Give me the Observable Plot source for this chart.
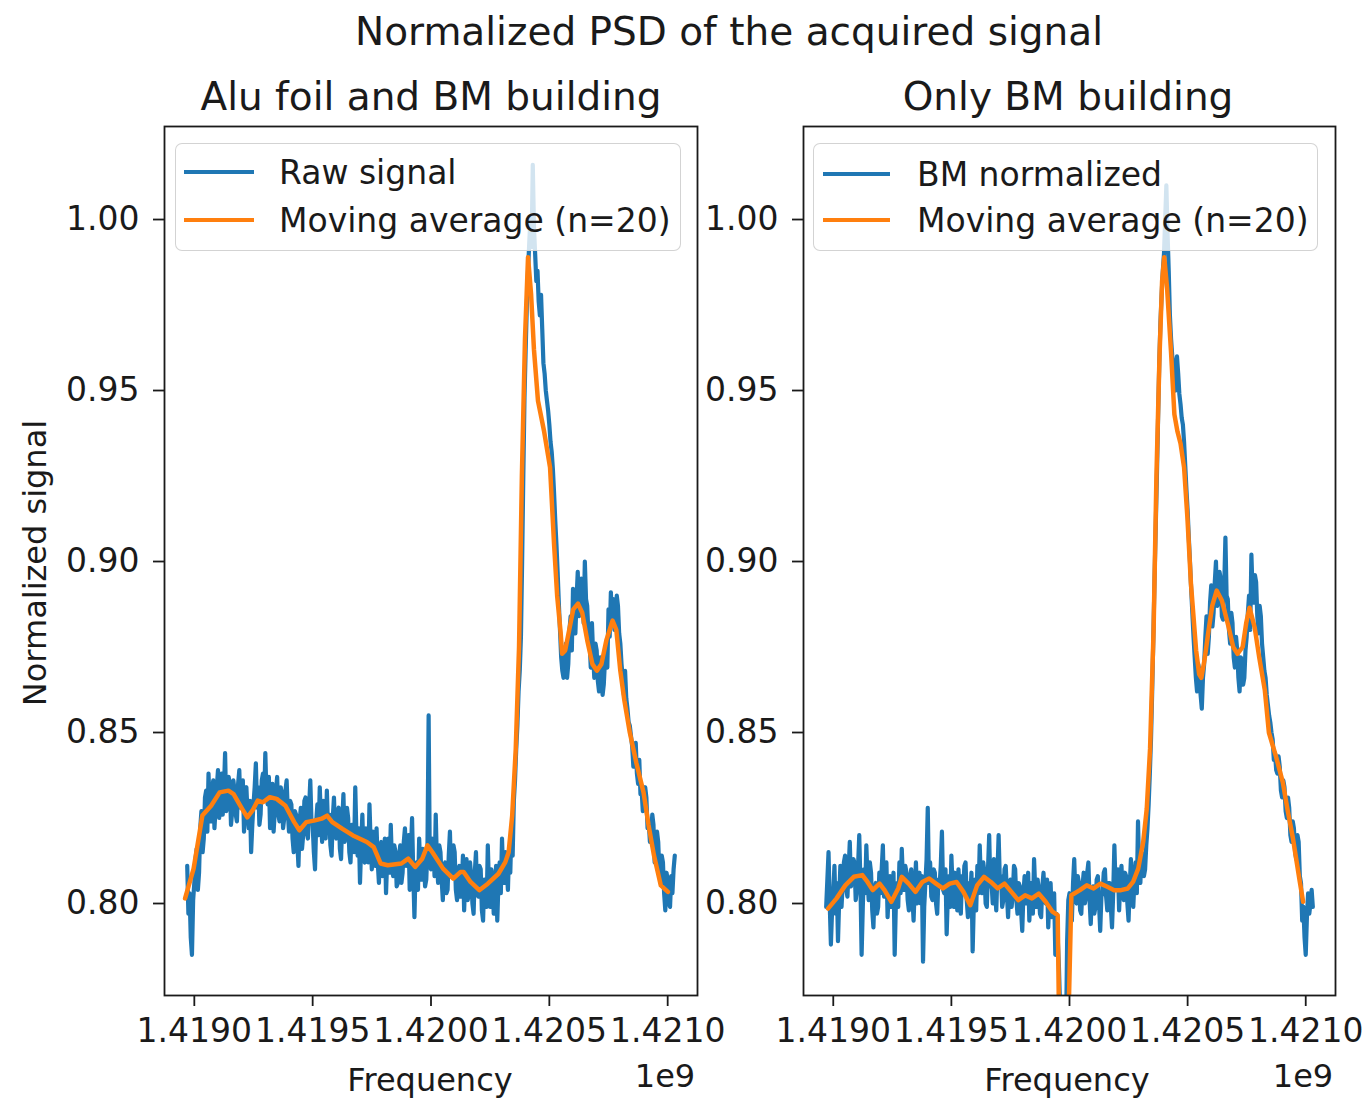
<!DOCTYPE html>
<html><head><meta charset="utf-8">
<script src="https://cdn.jsdelivr.net/npm/d3@7"></script>
<script src="https://cdn.jsdelivr.net/npm/@observablehq/plot@0.6"></script>
<style>
body{margin:0;background:#fff;font-family:"DejaVu Sans",sans-serif;color:#1a1a1a}
#fig{position:relative;width:1365px;height:1100px;overflow:hidden;background:#fff}
.t{position:absolute;white-space:nowrap;line-height:1;transform:translate(-50%,-50%)}
.legend{position:absolute;background:rgba(255,255,255,0.8);border:1.5px solid rgba(200,200,200,0.8);border-radius:7px;box-sizing:border-box}
.sw{position:absolute;height:4.5px}
.lt{position:absolute;white-space:nowrap;line-height:1;font-size:33px;transform:translateY(-50%)}
</style></head><body><div id="fig"></div>
<script>
// ---- data ----
const suptitle = "Normalized PSD of the acquired signal";
const panelTitles = ["Alu foil and BM building", "Only BM building"];
const rawLabels = ["Raw signal", "BM normalized"];
const maLabel = "Moving average (n=20)";
const xLabel = "Frequency";
const yLabel = "Normalized signal";
const offsetLabel = "1e9";
const yTicks = [0.80, 0.85, 0.90, 0.95, 1.00];
const xTicks = [1.4190, 1.4195, 1.4200, 1.4205, 1.4210];
const freqStart = 1.41897;   // first FFT bin (x 1e9 Hz)
const freqStep = 0.000005;   // bin width (x 1e9 Hz)

const rawAlu = [
0.811,0.797,0.803,0.790,0.785,0.801,0.806,0.813,0.816,0.804,0.809,0.822,0.827,0.815,0.819,0.831,0.833,0.821,0.838,0.828,
0.824,0.833,0.836,0.822,0.828,0.834,0.839,0.825,0.831,0.838,0.826,0.833,0.844,0.827,0.829,0.837,0.835,0.823,0.827,0.836,
0.833,0.826,0.824,0.835,0.839,0.828,0.829,0.836,0.821,0.831,0.834,0.826,0.822,0.830,0.815,0.823,0.829,0.834,0.841,0.828,
0.834,0.823,0.826,0.836,0.838,0.830,0.844,0.831,0.829,0.837,0.822,0.832,0.835,0.821,0.827,0.833,0.837,0.826,0.824,0.834,
0.832,0.822,0.825,0.833,0.836,0.827,0.821,0.830,0.829,0.819,0.815,0.827,0.826,0.818,0.811,0.824,0.828,0.816,0.820,0.830,
0.831,0.821,0.819,0.828,0.836,0.824,0.823,0.815,0.810,0.824,0.829,0.820,0.834,0.825,0.818,0.830,0.827,0.819,0.833,0.822,
0.826,0.817,0.814,0.825,0.831,0.821,0.819,0.827,0.828,0.816,0.813,0.824,0.832,0.818,0.820,0.828,0.825,0.815,0.812,0.823,
0.823,0.815,0.834,0.820,0.814,0.822,0.806,0.817,0.826,0.813,0.812,0.822,0.821,0.812,0.829,0.818,0.810,0.821,0.819,0.811,
0.822,0.812,0.806,0.816,0.818,0.808,0.811,0.819,0.803,0.813,0.819,0.809,0.823,0.812,0.808,0.817,0.815,0.805,0.806,0.814,
0.817,0.806,0.809,0.818,0.822,0.811,0.813,0.820,0.804,0.815,0.825,0.809,0.796,0.811,0.812,0.804,0.819,0.810,0.807,0.816,
0.813,0.805,0.807,0.816,0.855,0.811,0.810,0.819,0.818,0.808,0.826,0.812,0.806,0.817,0.815,0.807,0.801,0.811,0.812,0.803,
0.804,0.814,0.821,0.808,0.809,0.817,0.815,0.804,0.801,0.810,0.811,0.802,0.806,0.814,0.798,0.808,0.813,0.801,0.803,0.812,
0.808,0.800,0.797,0.809,0.815,0.803,0.802,0.811,0.810,0.798,0.795,0.807,0.806,0.799,0.817,0.805,0.799,0.810,0.808,0.797,
0.803,0.811,0.795,0.806,0.812,0.803,0.819,0.808,0.806,0.815,0.810,0.804,0.816,0.809,0.822,0.814,0.830,0.836,0.845,0.852,
0.862,0.868,0.878,0.900,0.925,0.948,0.962,0.975,0.985,0.993,1.000,0.992,1.016,0.998,0.990,0.982,0.985,0.976,0.972,0.978,
0.968,0.958,0.955,0.950,0.947,0.944,0.940,0.935,0.932,0.927,0.920,0.912,0.905,0.897,0.888,0.880,0.872,0.868,0.866,0.872,
0.876,0.866,0.870,0.880,0.884,0.874,0.892,0.883,0.879,0.889,0.897,0.884,0.885,0.895,0.893,0.882,0.900,0.889,0.887,0.879,
0.877,0.869,0.882,0.873,0.866,0.876,0.874,0.865,0.862,0.872,0.870,0.861,0.864,0.871,0.876,0.869,0.886,0.878,0.891,0.882,
0.889,0.880,0.884,0.890,0.887,0.879,0.876,0.870,0.866,0.861,0.868,0.860,0.857,0.853,0.852,0.849,0.846,0.840,0.843,0.847,
0.838,0.835,0.842,0.832,0.833,0.827,0.829,0.834,0.831,0.822,0.824,0.818,0.820,0.826,0.823,0.812,0.814,0.821,0.818,0.809,
0.806,0.814,0.812,0.803,0.798,0.809,0.807,0.800,0.799,0.808,0.803,0.810,0.814];

const rawBM = [
0.799,0.807,0.815,0.800,0.788,0.798,0.803,0.811,0.797,0.806,0.789,0.801,0.811,0.799,0.806,0.812,0.814,0.804,0.802,0.810,
0.818,0.805,0.807,0.813,0.812,0.801,0.804,0.811,0.820,0.806,0.785,0.799,0.810,0.803,0.817,0.807,0.801,0.812,0.809,0.798,
0.793,0.804,0.806,0.797,0.799,0.809,0.803,0.810,0.817,0.802,0.805,0.812,0.796,0.804,0.808,0.799,0.802,0.809,0.785,0.800,
0.806,0.799,0.812,0.803,0.816,0.807,0.804,0.811,0.809,0.801,0.798,0.807,0.810,0.802,0.795,0.805,0.812,0.800,0.803,0.809,
0.800,0.808,0.783,0.799,0.806,0.813,0.828,0.806,0.812,0.802,0.801,0.810,0.809,0.800,0.797,0.807,0.805,0.811,0.821,0.804,
0.803,0.810,0.791,0.802,0.808,0.799,0.814,0.805,0.799,0.809,0.806,0.798,0.810,0.803,0.797,0.808,0.804,0.811,0.812,0.801,
0.796,0.806,0.802,0.809,0.786,0.800,0.807,0.798,0.811,0.803,0.817,0.806,0.803,0.812,0.809,0.800,0.799,0.810,0.820,0.805,
0.806,0.800,0.813,0.804,0.798,0.809,0.820,0.807,0.808,0.799,0.801,0.810,0.811,0.803,0.796,0.805,0.807,0.799,0.803,0.811,
0.810,0.801,0.797,0.806,0.805,0.798,0.792,0.803,0.808,0.800,0.801,0.809,0.795,0.803,0.806,0.797,0.813,0.804,0.799,0.807,
0.804,0.797,0.796,0.805,0.809,0.801,0.800,0.807,0.793,0.802,0.806,0.796,0.798,0.803,0.785,0.797,0.790,0.782,0.770,0.740,
0.700,0.690,0.720,0.760,0.789,0.801,0.803,0.796,0.795,0.806,0.813,0.802,0.800,0.808,0.806,0.798,0.797,0.805,0.809,0.800,
0.802,0.809,0.812,0.801,0.794,0.803,0.805,0.797,0.799,0.807,0.808,0.800,0.792,0.802,0.803,0.809,0.810,0.802,0.798,0.806,
0.806,0.799,0.793,0.803,0.817,0.805,0.804,0.810,0.798,0.806,0.811,0.803,0.801,0.809,0.808,0.800,0.795,0.805,0.813,0.806,
0.799,0.807,0.812,0.803,0.824,0.809,0.806,0.815,0.814,0.808,0.810,0.817,0.822,0.829,0.838,0.848,0.862,0.878,0.895,0.910,
0.925,0.942,0.958,0.970,0.978,0.985,0.990,1.000,1.010,0.996,0.985,0.972,0.965,0.960,0.958,0.952,0.950,0.960,0.955,0.949,
0.946,0.942,0.940,0.935,0.928,0.921,0.915,0.907,0.900,0.892,0.885,0.878,0.872,0.866,0.862,0.870,0.868,0.861,0.857,0.866,
0.870,0.878,0.884,0.873,0.878,0.888,0.893,0.881,0.885,0.894,0.900,0.887,0.888,0.897,0.895,0.884,0.883,0.893,0.907,0.890,
0.889,0.880,0.876,0.885,0.882,0.872,0.869,0.878,0.874,0.866,0.862,0.872,0.871,0.864,0.866,0.874,0.878,0.885,0.890,0.880,
0.902,0.891,0.888,0.896,0.894,0.884,0.879,0.887,0.884,0.876,0.872,0.868,0.866,0.861,0.858,0.855,0.853,0.850,0.848,0.842,
0.844,0.839,0.838,0.843,0.840,0.833,0.831,0.836,0.834,0.827,0.825,0.831,0.828,0.820,0.818,0.824,0.822,0.815,0.813,0.820,
0.818,0.808,0.806,0.795,0.799,0.790,0.785,0.796,0.803,0.797,0.800,0.804,0.799];

// moving average: [frequency (x1e9), value]
const maAlu = [
[1.418961,0.8015],[1.418997,0.8102],[1.419034,0.8257],[1.419071,0.8286],[1.419107,0.8325],[1.419144,0.8330],
[1.419166,0.8320],[1.419202,0.8277],[1.419224,0.8252],[1.419246,0.8272],[1.419268,0.8301],[1.419290,0.8296],
[1.419319,0.8311],[1.419348,0.8306],[1.419385,0.8286],[1.419422,0.8238],[1.419444,0.8214],[1.419473,0.8238],
[1.419510,0.8243],[1.419538,0.8248],[1.419561,0.8257],[1.419583,0.8238],[1.419626,0.8218],[1.419670,0.8199],
[1.419729,0.8180],[1.419758,0.8165],[1.419787,0.8117],[1.419817,0.8112],[1.419875,0.8117],[1.419904,0.8131],
[1.419933,0.8107],[1.419963,0.8131],[1.419985,0.8170],[1.420006,0.8150],[1.420051,0.8102],[1.420094,0.8073],
[1.420124,0.8092],[1.420138,0.8092],[1.420167,0.8063],[1.420204,0.8039],[1.420240,0.8058],[1.420285,0.8087],
[1.420314,0.8121],[1.420328,0.8150],[1.420343,0.8257],[1.420358,0.8451],[1.420372,0.875],[1.420384,0.925],
[1.420397,0.965],[1.420410,0.989],[1.420423,0.978],[1.420435,0.962],[1.420452,0.947],[1.420478,0.938],
[1.420503,0.9275],[1.420520,0.905],[1.420533,0.890],[1.420548,0.879],[1.420554,0.873],[1.420567,0.874],
[1.420584,0.880],[1.420601,0.886],[1.420621,0.8877],[1.420639,0.885],[1.420660,0.877],[1.420682,0.870],
[1.420701,0.8681],[1.420720,0.870],[1.420741,0.877],[1.420767,0.8827],[1.420783,0.880],[1.420800,0.868],
[1.420817,0.8594],[1.420840,0.850],[1.420868,0.841],[1.420898,0.8325],[1.420919,0.823],[1.420942,0.8141],
[1.420971,0.8053],[1.421001,0.8034]];

const maBM = [
[1.418978,0.7985],[1.419014,0.8015],[1.419051,0.8053],[1.419087,0.8078],[1.419123,0.8083],[1.419145,0.8063],
[1.419167,0.8039],[1.419196,0.8058],[1.419217,0.8039],[1.419246,0.8005],[1.419275,0.8044],[1.419290,0.8078],
[1.419319,0.8058],[1.419348,0.8034],[1.419377,0.8063],[1.419406,0.8073],[1.419435,0.8058],[1.419464,0.8044],
[1.419493,0.8058],[1.419522,0.8063],[1.419551,0.8034],[1.419580,0.7995],[1.419609,0.8053],[1.419638,0.8078],
[1.419667,0.8063],[1.419696,0.8044],[1.419725,0.8058],[1.419754,0.8034],[1.419783,0.8010],[1.419812,0.8024],
[1.419841,0.8015],[1.419870,0.8029],[1.419899,0.8005],[1.419928,0.7976],[1.419950,0.7966],[1.419957,0.760],
[1.419972,0.740],[1.419986,0.750],[1.419997,0.770],[1.420008,0.8024],[1.420044,0.8039],[1.420073,0.8053],
[1.420102,0.8044],[1.420131,0.8058],[1.420160,0.8049],[1.420189,0.8039],[1.420218,0.8039],[1.420247,0.8044],
[1.420269,0.8063],[1.420291,0.8102],[1.420312,0.8180],[1.420327,0.8277],[1.420341,0.8452],[1.420356,0.880],
[1.420368,0.925],[1.420381,0.960],[1.420392,0.982],[1.420401,0.989],[1.420413,0.980],[1.420430,0.961],
[1.420444,0.943],[1.420457,0.938],[1.420470,0.9345],[1.420485,0.9275],[1.420499,0.913],[1.420514,0.8936],
[1.420536,0.874],[1.420549,0.867],[1.420558,0.866],[1.420571,0.871],[1.420587,0.879],[1.420604,0.887],
[1.420623,0.8915],[1.420645,0.8886],[1.420674,0.8807],[1.420693,0.875],[1.420711,0.873],[1.420733,0.875],
[1.420748,0.882],[1.420762,0.8865],[1.420784,0.8807],[1.420803,0.872],[1.420827,0.8623],[1.420844,0.850],
[1.420874,0.843],[1.420903,0.8354],[1.420924,0.827],[1.420946,0.819],[1.420975,0.8063],[1.420989,0.8005]];

// ---- drawing ----
const BLUE = "#1f77b4", ORANGE = "#ff7f0e", INK = "#1a1a1a";
const fig = document.getElementById("fig");

function panel(raw, ma, cfg) {
  const rawData = raw.map((v, i) => ({f: freqStart + i * freqStep, v}));
  const maData = ma.map(([f, v]) => ({f, v}));
  const svg = Plot.plot({
    width: cfg.width, height: 1100,
    marginTop: 126, marginBottom: 105, marginLeft: cfg.ml, marginRight: cfg.mr,
    style: {background: "transparent", overflow: "visible", fontFamily: "DejaVu Sans, sans-serif", fontSize: "33px", color: INK},
    x: {domain: [1.418874, 1.421126]},
    y: {domain: [0.7731, 1.0272]},
    marks: [
      Plot.line(rawData, {x: "f", y: "v", stroke: BLUE, strokeWidth: 4.2, strokeLinejoin: "round", clip: true}),
      Plot.line(maData, {x: "f", y: "v", stroke: ORANGE, strokeWidth: 4.5, strokeLinejoin: "round", clip: true}),
      Plot.frame({stroke: INK, strokeWidth: 1.8}),
      Plot.axisY({ticks: yTicks, tickFormat: d3.format(".2f"), tickSize: 11, tickPadding: 14, strokeWidth: 1.8, label: null}),
      Plot.axisX({ticks: xTicks, tickFormat: d3.format(".4f"), tickSize: 11, tickPadding: 12, strokeWidth: 1.8, label: null})
    ]
  });
  svg.style.position = "absolute";
  svg.style.left = cfg.left + "px";
  svg.style.top = "0px";
  fig.appendChild(svg);
}

panel(rawAlu, maAlu, {left: 0, width: 725, ml: 164, mr: 28});
panel(rawBM, maBM, {left: 700, width: 665, ml: 103, mr: 30});

function text(str, x, y, size, extra) {
  const d = document.createElement("div");
  d.className = "t";
  d.textContent = str;
  d.style.left = x + "px"; d.style.top = y + "px"; d.style.fontSize = size + "px";
  if (extra) Object.assign(d.style, extra);
  fig.appendChild(d);
  return d;
}
text(suptitle, 729, 31, 39);
text(panelTitles[0], 431, 96, 39);
text(panelTitles[1], 1068, 96, 39);
text(xLabel, 430, 1080, 32);
text(xLabel, 1067, 1080, 32);
text(offsetLabel, 665, 1076, 32);
text(offsetLabel, 1303, 1076, 32);
text(yLabel, 35, 563, 32, {transform: "translate(-50%,-50%) rotate(-90deg)"});

function legend(box, items) {
  const b = document.createElement("div");
  b.className = "legend";
  Object.assign(b.style, {left: box.x + "px", top: box.y + "px", width: box.w + "px", height: box.h + "px"});
  fig.appendChild(b);
  items.forEach(it => {
    const s = document.createElement("div");
    s.className = "sw";
    Object.assign(s.style, {left: (box.sx - box.x) + "px", width: box.sw + "px", top: (it.y - box.y - 2.25) + "px", background: it.color});
    b.appendChild(s);
    const t = document.createElement("div");
    t.className = "lt";
    t.textContent = it.label;
    Object.assign(t.style, {left: (box.tx - box.x) + "px", top: (it.y - box.y) + "px"});
    b.appendChild(t);
  });
}
legend({x: 175, y: 143, w: 506, h: 108, sx: 183, sw: 70, tx: 278},
  [{label: rawLabels[0], color: BLUE, y: 171}, {label: maLabel, color: ORANGE, y: 219}]);
legend({x: 813, y: 143, w: 505, h: 108, sx: 822, sw: 67, tx: 916},
  [{label: rawLabels[1], color: BLUE, y: 173}, {label: maLabel, color: ORANGE, y: 219}]);
</script></body></html>
